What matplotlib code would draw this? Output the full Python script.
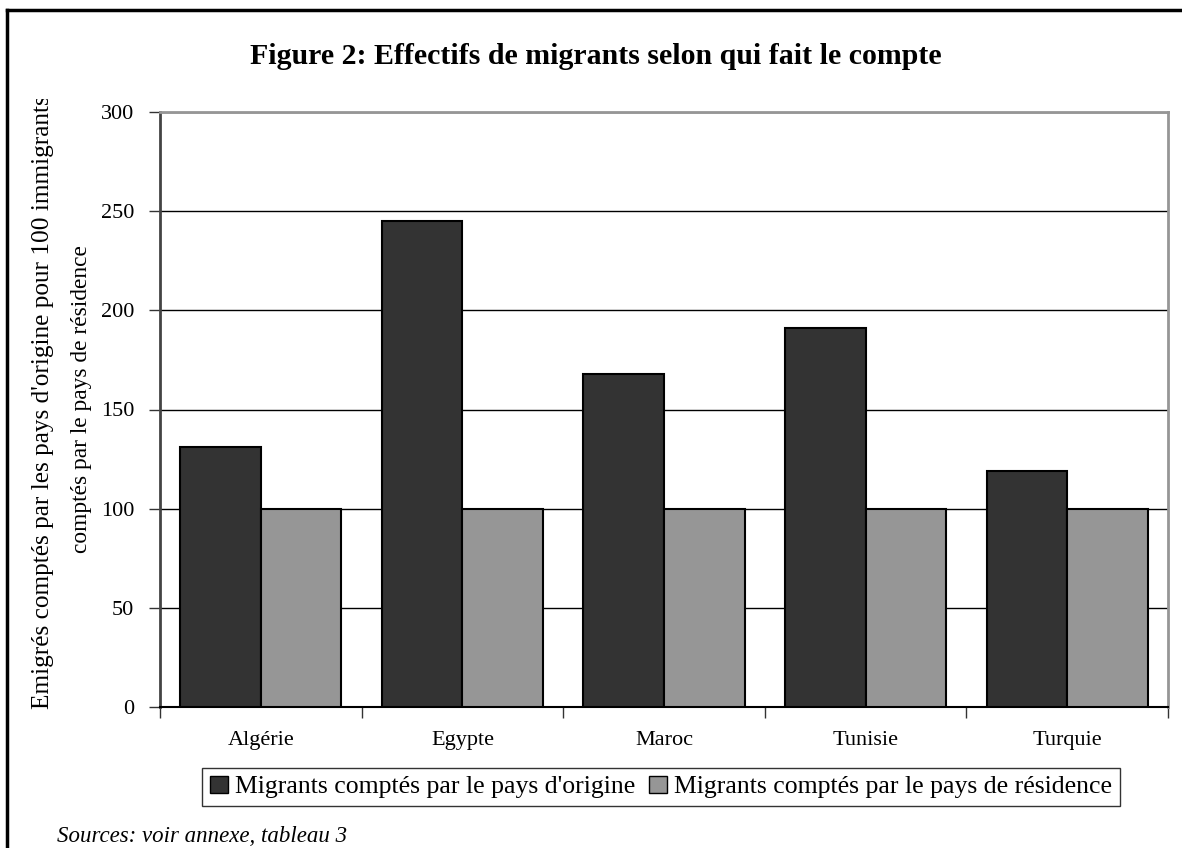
import numpy as np
import matplotlib
matplotlib.use("Agg")
import matplotlib.pyplot as plt
from matplotlib.lines import Line2D
from matplotlib.transforms import Bbox

# Data
countries = ["Algérie", "Egypte", "Maroc", "Tunisie", "Turquie"]
origin_counts = [131, 245, 168, 191, 119]
residence_counts = [100, 100, 100, 100, 100]
y_ticks = [0, 50, 100, 150, 200, 250, 300]

series_labels = ["Migrants comptés par le pays d'origine",
                 "Migrants comptés par le pays de résidence"]
title = "Figure 2: Effectifs de migrants selon qui fait le compte"
ylabel_1 = "Emigrés comptés par les pays d'origine pour 100 immigrants"
ylabel_2 = "comptés par le pays de résidence"
source = "Sources: voir annexe, tableau 3"

DARK = "#333333"
GRAY = "#969696"
W, H = 1182, 848

plt.rcParams["font.family"] = ["Liberation Serif", "DejaVu Serif"]

fig = plt.figure(figsize=(W / 100, H / 100), dpi=100)
ax = fig.add_axes([160 / W, 1 - 707 / H, (1168 - 160) / W, (707 - 112) / H])

x = np.arange(len(countries))
bw = 0.4
ax.bar(x - bw / 2, origin_counts, bw, color=DARK, edgecolor="black",
       linewidth=1.5, label=series_labels[0], zorder=3)
ax.bar(x + bw / 2, residence_counts, bw, color=GRAY, edgecolor="black",
       linewidth=1.5, label=series_labels[1], zorder=3)

ax.set_xlim(-0.5, len(countries) - 0.5)
ax.set_ylim(0, 300)
ax.set_yticks(y_ticks)
ax.set_yticklabels([str(v) for v in y_ticks], fontsize=16)
ax.yaxis.grid(True, color="black", linewidth=1)
ax.set_axisbelow(True)

ax.set_xticks(x)
ax.set_xticklabels(countries, fontsize=16)
ax.set_xticks(np.arange(-0.5, len(countries)), minor=True)
ax.tick_params(axis="x", which="major", length=0, pad=17)
ax.tick_params(axis="x", which="minor", length=8, width=1, color="#333333")
ax.tick_params(axis="y", length=8, width=1, color="#333333", pad=10.5)

ax.spines["top"].set_color(GRAY)
ax.spines["top"].set_linewidth(2)
ax.spines["right"].set_color(GRAY)
ax.spines["right"].set_linewidth(2)
ax.spines["left"].set_color("#444444")
ax.spines["left"].set_linewidth(2)
ax.spines["bottom"].set_color("black")
ax.spines["bottom"].set_linewidth(1.5)

# Title
fig.text(596 / W, 1 - 56 / H, title, ha="center", va="center",
         fontsize=21.5, fontweight="bold")

# Y label on two lines; the first one is cut at the top as in the original
t1 = fig.text(43 / W, 1 - 402 / H, ylabel_1, rotation=90, ha="center",
              va="center", fontsize=18.2)
t1.set_clip_box(Bbox.from_extents(0, 0, W, H - 99))
t1.set_clip_on(True)
fig.text(82 / W, 1 - 399 / H, ylabel_2, rotation=90, ha="center",
         va="center", fontsize=16.8)

# Legend
leg = fig.legend(loc="center", bbox_to_anchor=(661 / W, 1 - 787 / H),
                 ncol=2, fontsize=18.5, frameon=True, fancybox=False,
                 handlelength=0.7, handleheight=0.7, handletextpad=0.3,
                 columnspacing=0.5, borderpad=0.3, borderaxespad=0)
leg.get_frame().set_edgecolor("black")
leg.get_frame().set_linewidth(1)
for h in leg.legend_handles:
    h.set_linewidth(1)

# Source note
fig.text(57 / W, 1 - 836 / H, source, ha="left", va="center",
         fontsize=16.5, style="italic")

# Outer frame (only top and left visible in the crop)
fig.add_artist(Line2D([7 / W, 1], [1 - 10 / H, 1 - 10 / H],
                      transform=fig.transFigure, color="black", linewidth=2.5))
fig.add_artist(Line2D([7 / W, 7 / W], [0, 1 - 10 / H],
                      transform=fig.transFigure, color="black", linewidth=2.5))

fig.savefig("out.png", dpi=100, facecolor="white")
